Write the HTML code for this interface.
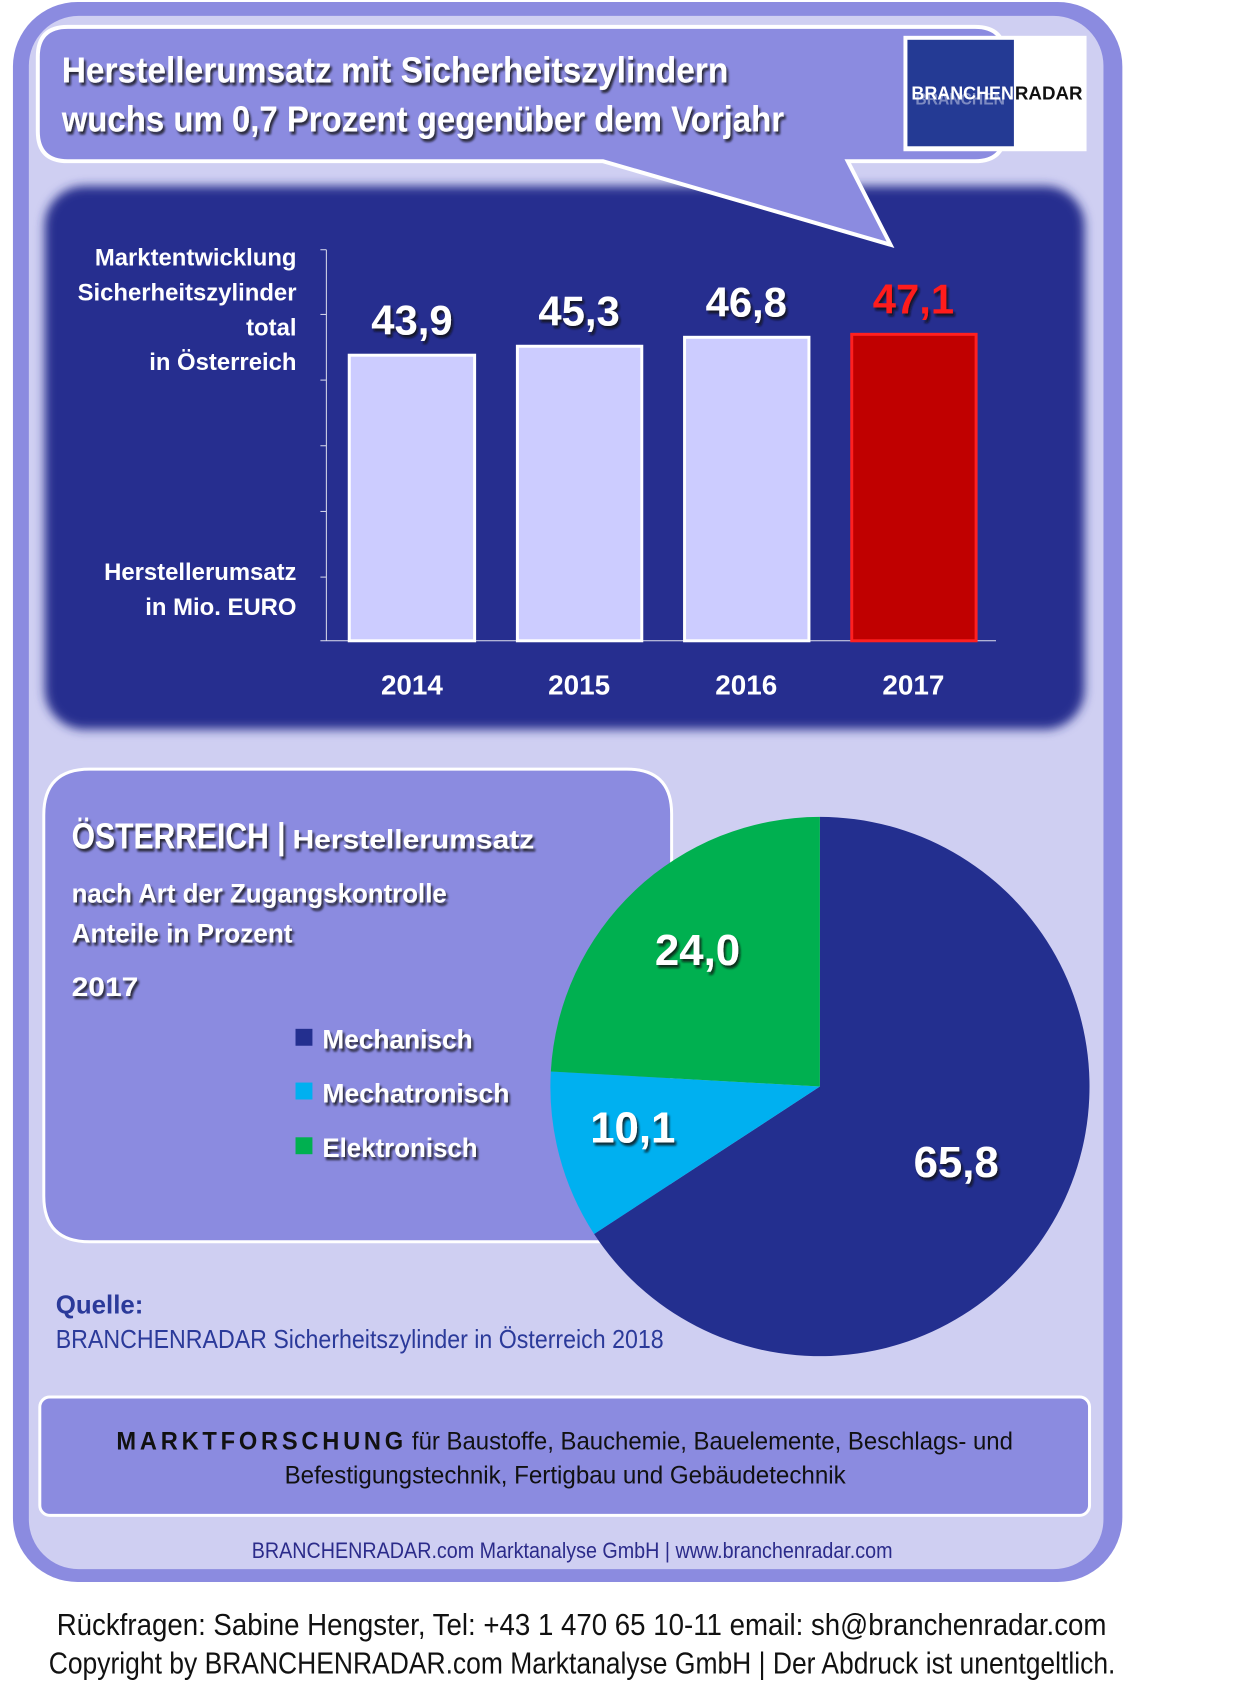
<!DOCTYPE html>
<html><head><meta charset="utf-8"><style>
html,body{margin:0;padding:0;background:#fff;}
svg{display:block;}
text{font-family:"Liberation Sans",sans-serif;}
</style></head><body>
<svg width="1240" height="1704" viewBox="0 0 1240 1704" xmlns="http://www.w3.org/2000/svg">
<defs>
<filter id="sh" x="-5%" y="-20%" width="110%" height="140%"><feDropShadow dx="2" dy="3" stdDeviation="1" flood-color="#111" flood-opacity="0.8"/></filter>
<filter id="bl"><feGaussianBlur stdDeviation="5"/></filter>
</defs>
<g transform="scale(0.995)">
<!-- outer frame -->
<rect x="13" y="2" width="1115" height="1588" rx="65" fill="#8b8be0"/>
<rect x="29" y="16" width="1080" height="1561" rx="50" fill="#cfcff2"/>
<!-- dark panel -->
<rect x="45" y="187" width="1045" height="546" rx="40" fill="#262f8f" filter="url(#bl)"/>
<!-- speech bubble -->
<path d="M68 27 H980 Q1010 27 1010 57 V132 Q1010 162 980 162 H852 L895 246 L606 162 H68 Q38 162 38 132 V57 Q38 27 68 27 Z" fill="#8b8be0" stroke="#fff" stroke-width="4"/>
<text x="62" y="83" font-size="36" font-weight="bold" fill="#fff" filter="url(#sh)" textLength="670" lengthAdjust="spacingAndGlyphs">Herstellerumsatz mit Sicherheitszylindern</text>
<text x="62" y="132" font-size="36" font-weight="bold" fill="#fff" filter="url(#sh)" textLength="726" lengthAdjust="spacingAndGlyphs">wuchs um 0,7 Prozent gegenüber dem Vorjahr</text>
<!-- logo -->
<rect x="908" y="36" width="184" height="116" fill="#fff"/>
<rect x="912" y="40" width="107" height="107" fill="#243a94"/>
<text x="920" y="105" font-size="17" font-weight="bold" fill="#b8bfe0" opacity="0.6" textLength="90" lengthAdjust="spacingAndGlyphs">BRANCHEN</text>
<text x="916" y="100" font-size="19" font-weight="bold" fill="#fff" textLength="103" lengthAdjust="spacingAndGlyphs">BRANCHEN</text>
<text x="1020" y="100" font-size="19" font-weight="bold" fill="#111" textLength="68" lengthAdjust="spacingAndGlyphs">RADAR</text>
<!-- axis -->
<g stroke="#fff" stroke-width="1" opacity="0.85">
<line x1="328" y1="251" x2="328" y2="644"/>
<line x1="322" y1="251" x2="328" y2="251"/>
<line x1="322" y1="316" x2="328" y2="316"/>
<line x1="322" y1="382" x2="328" y2="382"/>
<line x1="322" y1="448" x2="328" y2="448"/>
<line x1="322" y1="514" x2="328" y2="514"/>
<line x1="322" y1="580" x2="328" y2="580"/>
<line x1="322" y1="644" x2="1001" y2="644"/>
</g>
<g font-size="24" font-weight="bold" fill="#fff" text-anchor="end">
<text x="298" y="267">Marktentwicklung</text>
<text x="298" y="302">Sicherheitszylinder</text>
<text x="298" y="337">total</text>
<text x="298" y="372">in Österreich</text>
<text x="298" y="583">Herstellerumsatz</text>
<text x="298" y="618">in Mio. EURO</text>
</g>
<rect x="351" y="357" width="126" height="287" fill="#ccccff" stroke="#fff" stroke-width="3"/>
<rect x="520" y="348" width="125" height="296" fill="#ccccff" stroke="#fff" stroke-width="3"/>
<rect x="688" y="339" width="125" height="305" fill="#ccccff" stroke="#fff" stroke-width="3"/>
<rect x="856" y="336" width="125" height="308" fill="#c00000" stroke="#ff2020" stroke-width="3"/>
<g font-size="42" font-weight="bold" text-anchor="middle" filter="url(#sh)">
<text x="414" y="336" fill="#fff">43,9</text>
<text x="582" y="327" fill="#fff">45,3</text>
<text x="750" y="318" fill="#fff">46,8</text>
<text x="918" y="315" fill="#ff1a1a">47,1</text>
</g>
<g font-size="28" font-weight="bold" fill="#fff" text-anchor="middle">
<text x="414" y="698">2014</text>
<text x="582" y="698">2015</text>
<text x="750" y="698">2016</text>
<text x="918" y="698">2017</text>
</g>
<!-- lower panel -->
<path d="M90 773 H630 Q675 773 675 818 V1248 H90 Q44 1248 44 1202 V819 Q44 773 90 773 Z" fill="#8b8be0" stroke="#fff" stroke-width="3"/>
<g fill="#fff" font-weight="bold" filter="url(#sh)">
<text x="72" y="853" font-size="36" textLength="215" lengthAdjust="spacingAndGlyphs">ÖSTERREICH |</text>
<text x="294" y="853" font-size="27" textLength="243" lengthAdjust="spacingAndGlyphs">Herstellerumsatz</text>
<text x="72" y="907" font-size="27" textLength="377" lengthAdjust="spacingAndGlyphs">nach Art der Zugangskontrolle</text>
<text x="72" y="947" font-size="27" textLength="222" lengthAdjust="spacingAndGlyphs">Anteile in Prozent</text>
<text x="72" y="1001" font-size="27" textLength="67" lengthAdjust="spacingAndGlyphs">2017</text>
<text x="324" y="1054" font-size="27" textLength="151" lengthAdjust="spacingAndGlyphs">Mechanisch</text>
<text x="324" y="1108" font-size="27" textLength="188" lengthAdjust="spacingAndGlyphs">Mechatronisch</text>
<text x="324" y="1163" font-size="27" textLength="156" lengthAdjust="spacingAndGlyphs">Elektronisch</text>
</g>
<rect x="297" y="1034" width="17" height="17" fill="#232f8f"/>
<rect x="297" y="1088" width="17" height="17" fill="#00b0f0"/>
<rect x="297" y="1143" width="17" height="17" fill="#00b050"/>
<!-- pie -->
<path d="M824 1092 L824 821 A271 271 0 1 1 597.1 1240.2 Z" fill="#232f8f"/>
<path d="M824 1092 L597.1 1240.2 A271 271 0 0 1 553.6 1076.9 Z" fill="#00b0f0"/>
<path d="M824 1092 L553.6 1076.9 A271 271 0 0 1 824 821 Z" fill="#00b050"/>
<g font-size="44" font-weight="bold" fill="#fff" text-anchor="middle" filter="url(#sh)">
<text x="701" y="970">24,0</text>
<text x="636" y="1148">10,1</text>
<text x="961" y="1183">65,8</text>
</g>
<!-- source -->
<text x="56" y="1320" font-size="26" font-weight="bold" fill="#2b3a9a">Quelle:</text>
<text x="56" y="1355" font-size="26" fill="#2b3a9a" textLength="611" lengthAdjust="spacingAndGlyphs">BRANCHENRADAR Sicherheitszylinder in Österreich 2018</text>
<!-- bottom box -->
<rect x="40" y="1404" width="1055" height="119" rx="10" fill="#8b8be0" stroke="#fff" stroke-width="3"/>
<text x="117" y="1457" font-size="25" font-weight="bold" fill="#111" letter-spacing="4" textLength="292" lengthAdjust="spacingAndGlyphs">MARKTFORSCHUNG</text>
<text x="414" y="1457" font-size="25" fill="#111" textLength="604" lengthAdjust="spacingAndGlyphs">für Baustoffe, Bauchemie, Bauelemente, Beschlags- und</text>
<text x="286" y="1491" font-size="25" fill="#111" textLength="564" lengthAdjust="spacingAndGlyphs">Befestigungstechnik, Fertigbau und Gebäudetechnik</text>
<text x="253" y="1566" font-size="22" fill="#2b2b8a" textLength="644" lengthAdjust="spacingAndGlyphs">BRANCHENRADAR.com Marktanalyse GmbH | www.branchenradar.com</text>
<!-- footer -->
<text x="57" y="1643" font-size="31" fill="#111" textLength="1055" lengthAdjust="spacingAndGlyphs">Rückfragen: Sabine Hengster, Tel: +43 1 470 65 10-11 email: sh@branchenradar.com</text>
<text x="49" y="1682" font-size="31" fill="#111" textLength="1072" lengthAdjust="spacingAndGlyphs">Copyright by BRANCHENRADAR.com  Marktanalyse GmbH | Der Abdruck ist unentgeltlich.</text>
</g>
</svg>
</body></html>
